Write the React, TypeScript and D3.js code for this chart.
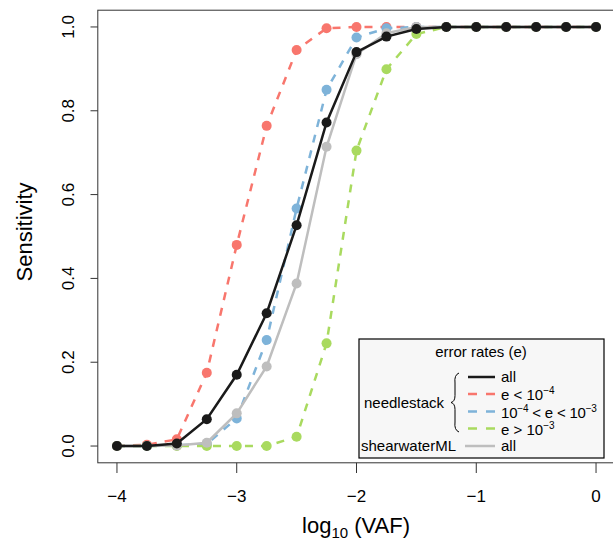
import React from "react";
import * as d3 from "d3";

const xVals = [-4, -3.75, -3.5, -3.25, -3, -2.75, -2.5, -2.25, -2, -1.75, -1.5, -1.25, -1, -0.75, -0.5, -0.25, 0];
const needleAll = [0, 0, 0.006, 0.064, 0.17, 0.317, 0.527, 0.772, 0.94, 0.977, 0.995, 1, 1, 1, 1, 1, 1];
const needleLow = [0, 0.003, 0.016, 0.175, 0.48, 0.764, 0.945, 0.997, 1, 1, 1, 1, 1, 1, 1, 1, 1];
const needleMid = [0, 0, 0.002, 0.005, 0.066, 0.253, 0.567, 0.85, 0.975, 0.997, 1, 1, 1, 1, 1, 1, 1];
const needleHigh = [0, 0, 0, 0, 0, 0, 0.022, 0.245, 0.705, 0.899, 0.983, 1, 1, 1, 1, 1, 1];
const shearAll = [0, 0, 0.001, 0.008, 0.078, 0.19, 0.388, 0.714, 0.935, 0.985, 1, 1, 1, 1, 1, 1, 1];

const xTicks = [-4, -3, -2, -1, 0];
const yTicks = [0, 0.2, 0.4, 0.6, 0.8, 1.0];

const series = [
  { name: "e < 10^-4", values: needleLow, color: "#F8766D", dash: "8,8" },
  { name: "10^-4 < e < 10^-3", values: needleMid, color: "#7EB3D9", dash: "8,8" },
  { name: "e > 10^-3", values: needleHigh, color: "#A9DA5F", dash: "8,8" },
  { name: "shearwaterML all", values: shearAll, color: "#BEBEBE", dash: null },
  { name: "needlestack all", values: needleAll, color: "#1A1A1A", dash: null },
];

const FONT = "'Liberation Sans', Arial, Helvetica, sans-serif";

export default function App() {
  const W = 613, H = 540;
  const x = d3.scaleLinear().domain([-4.16, 0.16]).range([97.8, 615.2]);
  const y = d3.scaleLinear().domain([-0.04, 1.04]).range([462.8, 10.2]);
  const line = d3.line<number>().x((_, i) => x(xVals[i])).y((d) => y(d));

  const fmtX = (v: number) => (v < 0 ? "\u2212" + Math.abs(v) : String(v));

  // legend geometry
  const lx0 = 468, lx1 = 495, ltx = 501;
  const rows = [377, 394, 411.5, 428.5, 446];
  const braceX = 457, braceTop = 373, braceBot = 432, braceMid = 402.5;
  const bracePath = `M ${braceX + 2} ${braceTop} Q ${braceX - 3} ${braceTop + 2} ${braceX - 2} ${braceTop + 10} L ${braceX - 2} ${braceMid - 7} Q ${braceX - 2} ${braceMid - 1} ${braceX - 6} ${braceMid} Q ${braceX - 2} ${braceMid + 1} ${braceX - 2} ${braceMid + 7} L ${braceX - 2} ${braceBot - 10} Q ${braceX - 3} ${braceBot - 2} ${braceX + 2} ${braceBot}`;

  const LF = 15;
  const sup = (t: string) => (
    <tspan dy={-6} fontSize={10}>{t}</tspan>
  );

  return (
    <svg width={W} height={H} style={{ position: "absolute", left: 0, top: 0, display: "block" }} fontFamily={FONT}>
      <rect x={0} y={0} width={W} height={H} fill="#fff" />
      {/* series lines */}
      {series.map((s) => (
        <g key={s.name}>
          <path d={line(s.values) || ""} fill="none" stroke={s.color} strokeWidth={2.5} strokeDasharray={s.dash || undefined} />
          {s.values.map((v, i) => (
            <circle key={i} cx={x(xVals[i])} cy={y(v)} r={5} fill={s.color} />
          ))}
        </g>
      ))}
      {/* plot box */}
      <rect x={97.8} y={10.2} width={615.2 - 97.8} height={462.8 - 10.2} fill="none" stroke="#333" strokeWidth={1} />
      {/* x axis */}
      {xTicks.map((t) => (
        <g key={t}>
          <line x1={x(t)} x2={x(t)} y1={462.8} y2={473} stroke="#333" strokeWidth={1} />
          <text x={x(t)} y={502} textAnchor="middle" fontSize={17} fill="#000">{fmtX(t)}</text>
        </g>
      ))}
      {/* y axis */}
      {yTicks.map((t) => (
        <g key={t}>
          <line x1={97.8} x2={90.5} y1={y(t)} y2={y(t)} stroke="#333" strokeWidth={1} />
          <text transform={`translate(74,${y(t)}) rotate(-90)`} textAnchor="middle" fontSize={17} fill="#000">{t.toFixed(1)}</text>
        </g>
      ))}
      {/* axis titles */}
      <text transform="translate(32,232) rotate(-90)" textAnchor="middle" fontSize={22} fill="#000">Sensitivity</text>
      <text x={356} y={533} textAnchor="middle" fontSize={22} fill="#000">
        log<tspan dy={5} fontSize={15}>10</tspan><tspan dy={-5}> (VAF)</tspan>
      </text>
      {/* legend */}
      <rect x={359} y={339} width={245} height={119} fill="#F7F7F7" stroke="#000" strokeWidth={1.2} />
      <text x={481} y={357} textAnchor="middle" fontSize={LF} fill="#000">error rates (e)</text>
      <text x={364} y={408} fontSize={LF} fill="#000">needlestack</text>
      <path d={bracePath} fill="none" stroke="#000" strokeWidth={1} />
      <text x={361} y={rows[4] + 5} fontSize={LF} fill="#000">shearwaterML</text>
      <line x1={lx0} x2={lx1} y1={rows[0]} y2={rows[0]} stroke="#1A1A1A" strokeWidth={2.5} />
      <line x1={lx0} x2={lx1} y1={rows[1]} y2={rows[1]} stroke="#F8766D" strokeWidth={2.5} strokeDasharray="9,9" />
      <line x1={lx0} x2={lx1} y1={rows[2]} y2={rows[2]} stroke="#7EB3D9" strokeWidth={2.5} strokeDasharray="9,9" />
      <line x1={lx0} x2={lx1} y1={rows[3]} y2={rows[3]} stroke="#A9DA5F" strokeWidth={2.5} strokeDasharray="9,9" />
      <line x1={465} x2={lx1} y1={rows[4]} y2={rows[4]} stroke="#BEBEBE" strokeWidth={2.5} />
      <text x={ltx} y={rows[0] + 5} fontSize={LF} fill="#000">all</text>
      <text x={ltx} y={rows[1] + 6} fontSize={LF} fill="#000">e &lt; 10{sup("\u22124")}</text>
      <text x={ltx} y={rows[2] + 6} fontSize={LF} fill="#000" letterSpacing={-0.2}>10{sup("\u22124")}<tspan dy={6}> &lt; e &lt; 10</tspan>{sup("\u22123")}</text>
      <text x={ltx} y={rows[3] + 6} fontSize={LF} fill="#000">e &gt; 10{sup("\u22123")}</text>
      <text x={ltx} y={rows[4] + 5} fontSize={LF} fill="#000">all</text>
    </svg>
  );
}
